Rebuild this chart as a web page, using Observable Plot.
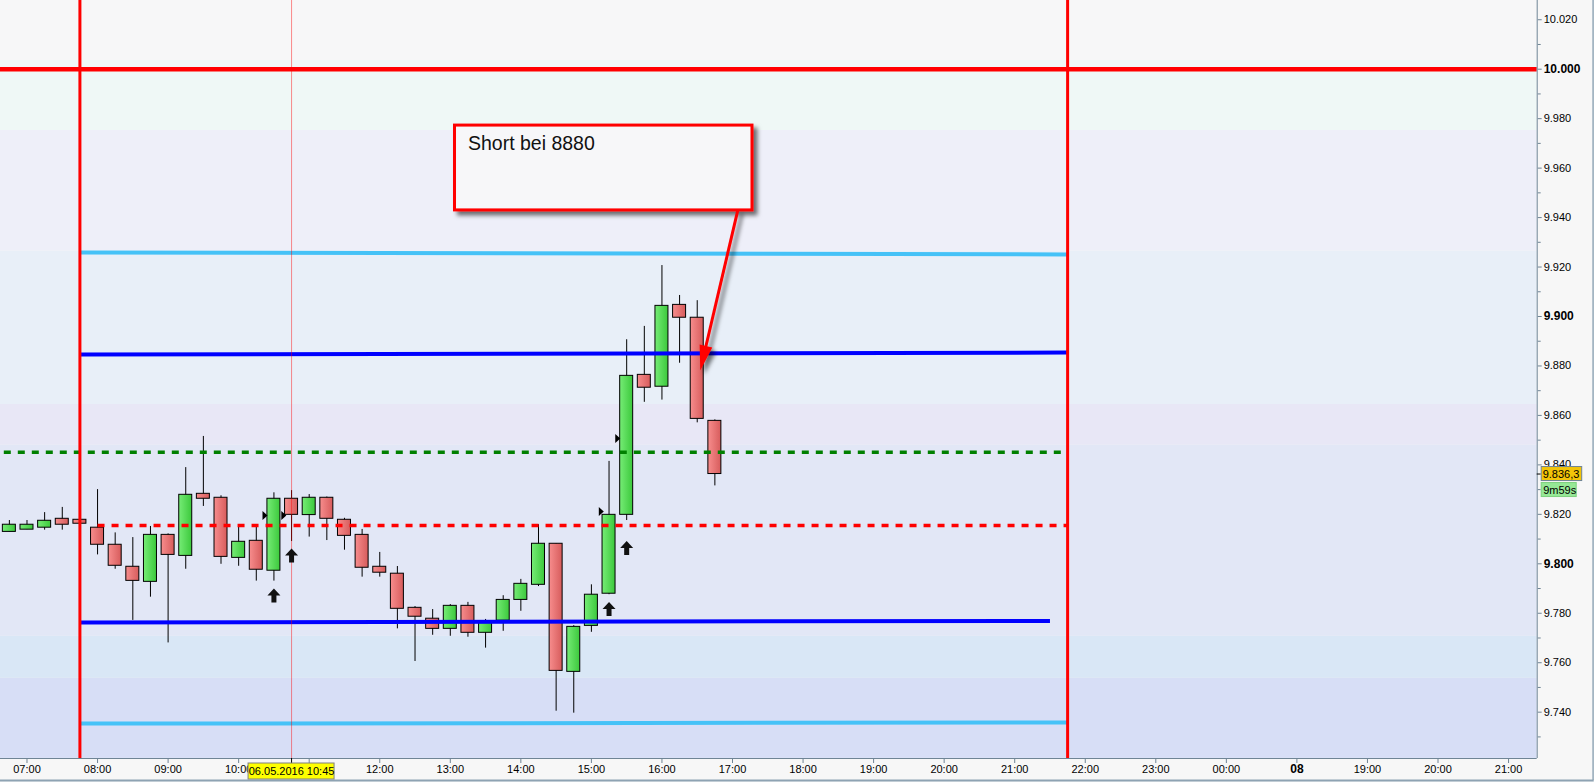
<!DOCTYPE html>
<html><head><meta charset="utf-8">
<script src="https://cdn.jsdelivr.net/npm/d3@7"></script>
<script src="https://cdn.jsdelivr.net/npm/@observablehq/plot@0.6"></script>
<style>html,body{margin:0;padding:0;background:#f7f7f7;overflow:hidden}</style>
</head><body><div id="chart"></div>
<script>
// ---------- data (15-minute candles, 06.05.2016) ----------
const times = ["06:45","07:00","07:15","07:30","07:45","08:00","08:15","08:30","08:45","09:00","09:15","09:30","09:45","10:00","10:15","10:30","10:45","11:00","11:15","11:30","11:45","12:00","12:15","12:30","12:45","13:00","13:15","13:30","13:45","14:00","14:15","14:30","14:45","15:00","15:15","15:30","15:45","16:00","16:15","16:30","16:45"];
const open  = [9.8129,9.8138,9.8146,9.8182,9.8178,9.8146,9.8077,9.7988,9.7927,9.8117,9.8032,9.8283,9.8267,9.8024,9.8093,9.7972,9.8263,9.8197,9.8267,9.8178,9.8117,9.7988,9.7960,9.7822,9.7778,9.7737,9.7830,9.7721,9.7770,9.7854,9.7915,9.8081,9.7563,9.7749,9.7879,9.8198,9.8764,9.8716,9.9047,9.8995,9.8578];
const high  = [9.8175,9.8175,9.8207,9.8228,9.8180,9.8300,9.8125,9.8106,9.8151,9.8121,9.8389,9.8515,9.8275,9.8148,9.8148,9.8287,9.8296,9.8280,9.8270,9.8184,9.8139,9.8046,9.7989,9.7827,9.7815,9.7835,9.7844,9.7775,9.7871,9.7937,9.8158,9.8081,9.7750,9.7915,9.8414,9.8906,9.8960,9.9206,9.9085,9.9064,9.8582];
const low   = [9.8129,9.8138,9.8136,9.8136,9.8160,9.8036,9.7978,9.7771,9.7865,9.7680,9.7978,9.8232,9.7998,9.7990,9.7930,9.7930,9.8090,9.8108,9.8094,9.8055,9.7946,9.7946,9.7737,9.7605,9.7711,9.7707,9.7703,9.7659,9.7727,9.7808,9.7908,9.7404,9.7396,9.7723,9.7875,9.8175,9.8653,9.8662,9.8811,9.8570,9.8315];
const close = [9.8158,9.8158,9.8174,9.8158,9.8162,9.8077,9.7992,9.7931,9.8117,9.8036,9.8279,9.8263,9.8028,9.8089,9.7976,9.8263,9.8198,9.8267,9.8182,9.8113,9.7984,9.7964,9.7818,9.7786,9.7737,9.7830,9.7721,9.7767,9.7854,9.7919,9.8081,9.7567,9.7745,9.7875,9.8198,9.8760,9.8712,9.9043,9.8995,9.8586,9.8363];

// x axis: compressed session axis (one slot per label); 11:00 is hidden under the crosshair label
const xTickLabels = ["07:00","08:00","09:00","10:00","","12:00","13:00","14:00","15:00","16:00","17:00","18:00","19:00","20:00","21:00","22:00","23:00","00:00","08","19:00","20:00","21:00"];
const xBoldLabel = "08";
// y axis ticks
const yTickLabels = [10.02, 9.98, 9.96, 9.94, 9.92, 9.88, 9.86, 9.84, 9.82, 9.78, 9.76, 9.74];
const yBoldTicks = [10.0, 9.9, 9.8];
const yMinorTicks = [10.01, 9.99, 9.97, 9.95, 9.93, 9.91, 9.89, 9.87, 9.85, 9.83, 9.81, 9.79, 9.77, 9.75, 9.73];

// background zones (value edges, top to bottom)
const zoneEdges = [10.0278, 10.0035, 9.9752, 9.9264, 9.8644, 9.8480, 9.7707, 9.7537, 9.7213];
const zoneColors = ["#f7f7f8", "#eff8f6", "#eeeff9", "#e8eff8", "#e8e7f6", "#e2e7f6", "#d9e7f6", "#d7def6"];

// session / levels
const sessionBounds = ["07:45", "21:45"];
const crosshairTime = "10:45";
const crosshairLabel = "06.05.2016 10:45";
const roundLevel = 10.000;
const upperOuter = [9.9259, 9.9251];   // light blue (start, end)
const upperInner = [9.8846, 9.8854];   // blue
const lowerInner = [9.7763, 9.7769];   // blue
const lowerOuter = [9.7354, 9.7358];   // light blue
const lowerInnerEnd = "21:30";
const greenLevel = 9.8451;
const redLevel = 9.8155;
const redLevelStart = "08:00";

// signals
const buyTimes = ["10:30", "10:45", "15:15", "15:30"];
const buyValues = [9.7872, 9.8034, 9.7817, 9.8064];
const markTimes = ["10:22", "10:38", "15:08", "15:22"];
const markValues = [9.8195, 9.8195, 9.8211, 9.8507];

// note
const noteText = "Short bei 8880";
const noteBox = {from: "13:04", to: "17:17", top: 9.9772, bottom: 9.9429};
const noteTextAt = ["13:15", 9.9700];
const noteArrowTail = ["17:05", 9.9429];
const noteArrowTip = ["16:33", 9.8780];

// last price
const lastPrice = 9.8363;
const lastPriceLabel = "9.836,3";
const timerLabel = "9m59s";

// ---------- helpers ----------
const toX = s => { const [h, m] = s.split(":").map(Number); return h + m / 60 - 7; };
const xDomain = [-0.3756, 21.406];
const yDomain = [9.72127, 10.02778];

const candles = times.map((t, i) => ({t: toX(t), o: open[i], h: high[i], l: low[i], c: close[i]}));
const up = candles.filter(d => d.c >= d.o), down = candles.filter(d => d.c < d.o);
const halfW = 6.5 / 70.55;
const zones = zoneColors.map((c, i) => ({y1: zoneEdges[i], y2: zoneEdges[i + 1], fill: c}));
const xTicks = xTickLabels.map((_, k) => k);

const levelSeg = (vals, endT) => [{x1: toX(sessionBounds[0]), x2: toX(endT || sessionBounds[1]), y1: vals[0], y2: vals[1]}];

const upArrow = {draw(ctx) { ctx.moveTo(0, -7); ctx.lineTo(6.5, 0); ctx.lineTo(2.5, 0); ctx.lineTo(2.5, 7); ctx.lineTo(-2.5, 7); ctx.lineTo(-2.5, 0); ctx.lineTo(-6.5, 0); ctx.closePath(); }};
const rightTri = {draw(ctx) { ctx.moveTo(-2, -4.5); ctx.lineTo(3, 0); ctx.lineTo(-2, 4.5); ctx.closePath(); }};

function defsMark() {
  const defs = d3.create("svg:defs");
  const g1 = defs.append("linearGradient").attr("id", "gUp").attr("x1", 0).attr("x2", 1).attr("y1", 0).attr("y2", 0);
  g1.append("stop").attr("offset", 0).attr("stop-color", "#76ec76");
  g1.append("stop").attr("offset", 1).attr("stop-color", "#3cc93c");
  const g2 = defs.append("linearGradient").attr("id", "gDown").attr("x1", 0).attr("x2", 1).attr("y1", 0).attr("y2", 0);
  g2.append("stop").attr("offset", 0).attr("stop-color", "#f78d8d");
  g2.append("stop").attr("offset", 1).attr("stop-color", "#d75c5c");
  const f = defs.append("filter").attr("id", "noteShadow").attr("filterUnits", "userSpaceOnUse")
    .attr("x", 0).attr("y", 0).attr("width", 1594).attr("height", 782);
  f.append("feDropShadow").attr("dx", 4).attr("dy", 4).attr("stdDeviation", 2.2)
    .attr("flood-color", "#000").attr("flood-opacity", 0.55);
  return defs.node();
}

function noteArrowMark(index, scales) {
  const sx = scales.x, sy = scales.y;
  const x0 = sx(toX(noteArrowTail[0])), y0 = sy(noteArrowTail[1]);
  const x1 = sx(toX(noteArrowTip[0])), y1 = sy(noteArrowTip[1]);
  const L = Math.hypot(x1 - x0, y1 - y0), ux = (x1 - x0) / L, uy = (y1 - y0) / L;
  const hl = 25, hw = 6.5;
  const bx = x1 - ux * hl, by = y1 - uy * hl;
  const g = d3.create("svg:g").attr("filter", "url(#noteShadow)");
  g.append("line").attr("x1", x0).attr("y1", y0).attr("x2", bx + ux * 3).attr("y2", by + uy * 3)
    .attr("stroke", "#ff0000").attr("stroke-width", 3);
  g.append("path").attr("d", `M${x1},${y1}L${bx - uy * hw},${by + ux * hw}L${bx + uy * hw},${by - ux * hw}Z`)
    .attr("fill", "#ff0000");
  return g.node();
}

const axisStroke = "#6f8495";
const xMax = xDomain[1], yMin = yDomain[0];

const plot = Plot.plot({
  width: 1594, height: 782,
  marginLeft: 0, marginTop: 0, marginRight: 57.3, marginBottom: 24,
  x: {domain: xDomain},
  y: {domain: yDomain},
  style: {background: "#f7f7f7", fontFamily: "'Liberation Sans', Arial, sans-serif", fontSize: "11px", color: "#000", overflow: "visible"},
  marks: [
    defsMark,
    // zones
    Plot.rect(zones, {x1: xDomain[0], x2: xDomain[1], y1: "y1", y2: "y2", fill: "fill"}),
    // candles
    Plot.ruleX(candles, {x: "t", y1: "l", y2: "h", stroke: "#000", strokeWidth: 1}),
    Plot.rect(up, {x1: d => d.t - halfW, x2: d => d.t + halfW, y1: "o", y2: "c", fill: "url(#gUp)", stroke: "#000", strokeWidth: 1}),
    Plot.rect(down, {x1: d => d.t - halfW, x2: d => d.t + halfW, y1: "o", y2: "c", fill: "url(#gDown)", stroke: "#000", strokeWidth: 1}),
    // dashed levels
    Plot.link([{x1: xDomain[0], x2: toX(sessionBounds[1]), y: greenLevel}], {x1: "x1", x2: "x2", y1: "y", y2: "y", stroke: "#008000", strokeWidth: 3.5, strokeDasharray: "7,7", strokeDashoffset: 10.7}),
    Plot.link([{x1: toX(redLevelStart), x2: toX(sessionBounds[1]), y: redLevel}], {x1: "x1", x2: "x2", y1: "y", y2: "y", stroke: "#ff0000", strokeWidth: 3.5, strokeDasharray: "7,7"}),
    // solid levels
    Plot.link(levelSeg(upperOuter), {x1: "x1", x2: "x2", y1: "y1", y2: "y2", stroke: "#45c2f7", strokeWidth: 4}),
    Plot.link(levelSeg(lowerOuter), {x1: "x1", x2: "x2", y1: "y1", y2: "y2", stroke: "#45c2f7", strokeWidth: 4}),
    Plot.link(levelSeg(upperInner), {x1: "x1", x2: "x2", y1: "y1", y2: "y2", stroke: "#0000ff", strokeWidth: 4}),
    Plot.link(levelSeg(lowerInner, lowerInnerEnd), {x1: "x1", x2: "x2", y1: "y1", y2: "y2", stroke: "#0000ff", strokeWidth: 4}),
    Plot.ruleY([roundLevel], {stroke: "#ff0000", strokeWidth: 4.5}),
    Plot.ruleX(sessionBounds.map(toX), {stroke: "#ff0000", strokeWidth: 3}),
    Plot.ruleX([toX(crosshairTime)], {stroke: "#ff0000", strokeOpacity: 0.45, strokeWidth: 1}),
    // signals
    Plot.dot(buyTimes, {x: d => toX(d), y: (d, i) => buyValues[i], symbol: upArrow, fill: "#111", stroke: null}),
    Plot.dot(markTimes, {x: d => toX(d), y: (d, i) => markValues[i], symbol: rightTri, fill: "#000", stroke: null}),
    // note box
    Plot.rect([noteBox], {x1: d => toX(d.from), x2: d => toX(d.to), y1: "bottom", y2: "top", fill: "#f7f7f9", stroke: "#ff0000", strokeWidth: 3, ariaDescription: "note box"}),
    Plot.text([noteText], {x: toX(noteTextAt[0]), y: noteTextAt[1], text: d => d, textAnchor: "start", fontSize: 19.5, fill: "#111"}),
    noteArrowMark,
    // axis frame
    Plot.ruleX([xMax], {stroke: axisStroke, strokeWidth: 1}),
    Plot.ruleY([yMin], {stroke: axisStroke, strokeWidth: 1}),
    Plot.ruleX([xMax], {dx: 56, y1: yDomain[1], y2: yMin, insetBottom: -22, stroke: "#a3b5c2", strokeWidth: 2}),
    Plot.ruleY([yMin], {dy: 22, x1: xDomain[0], x2: xMax, insetRight: -57, stroke: "#8ea3b3", strokeWidth: 2}),
    // axes
    Plot.axisX(xTicks.filter(k => xTickLabels[k] !== xBoldLabel), {anchor: "bottom", tickSize: 5, tickPadding: 2, tickFormat: k => xTickLabels[k], stroke: axisStroke, fill: "#000", label: null, fontSize: 11}),
    Plot.axisX(xTicks.filter(k => xTickLabels[k] === xBoldLabel), {anchor: "bottom", tickSize: 5, tickPadding: 1, tickFormat: k => xTickLabels[k], stroke: axisStroke, fill: "#000", label: null, fontSize: 12, fontWeight: "bold"}),
    Plot.axisY(yMinorTicks, {anchor: "right", tickSize: 3, tickFormat: () => "", stroke: axisStroke, label: null}),
    Plot.axisY(yTickLabels, {anchor: "right", tickSize: 4, tickPadding: 2.5, tickFormat: d => d.toFixed(3), stroke: axisStroke, fill: "#000", label: null, fontSize: 11}),
    Plot.axisY(yBoldTicks, {anchor: "right", tickSize: 4, tickPadding: 2.5, tickFormat: d => d.toFixed(3), stroke: axisStroke, fill: "#000", label: null, fontSize: 12, fontWeight: "bold"}),
    // crosshair date label
    Plot.ruleX([toX(crosshairTime)], {y1: yMin, y2: yMin, insetBottom: -5, stroke: "#000"}),
    Plot.rect([crosshairLabel], {x1: toX(crosshairTime), x2: toX(crosshairTime), y1: yMin, y2: yMin, insetLeft: -43, insetRight: -43, insetTop: 5, insetBottom: -21, fill: "#ffff00", stroke: "#808080", strokeWidth: 1}),
    Plot.text([crosshairLabel], {x: toX(crosshairTime), y: yMin, dy: 13, text: d => d, fontSize: 11, fill: "#000"}),
    // last price label
    Plot.ruleY([lastPrice], {x1: xMax, x2: xMax, insetRight: -4, stroke: "#000"}),
    Plot.rect([lastPriceLabel], {x1: xMax, x2: xMax, y1: lastPrice, y2: lastPrice, insetLeft: 4.5, insetRight: -45, insetTop: -7, insetBottom: -7, fill: "#f2c409", stroke: "#6f8495", strokeWidth: 1}),
    Plot.text([lastPriceLabel], {x: xMax, y: lastPrice, dx: 5.5, text: d => d, textAnchor: "start", fontSize: 11, fill: "#000"}),
    Plot.rect([timerLabel], {x1: xMax, x2: xMax, y1: lastPrice, y2: lastPrice, insetLeft: 4.5, insetRight: -39.5, insetTop: 9, insetBottom: -23, fill: "#96e896", stroke: "#7ed07e", strokeWidth: 1}),
    Plot.text([timerLabel], {x: xMax, y: lastPrice, dx: 6, dy: 16, text: d => d, textAnchor: "start", fontSize: 11, fill: "#000"})
  ]
});

d3.select(plot).selectAll('[aria-description="note box"]').attr("filter", "url(#noteShadow)");
document.getElementById("chart").appendChild(plot);
</script>
</body></html>
